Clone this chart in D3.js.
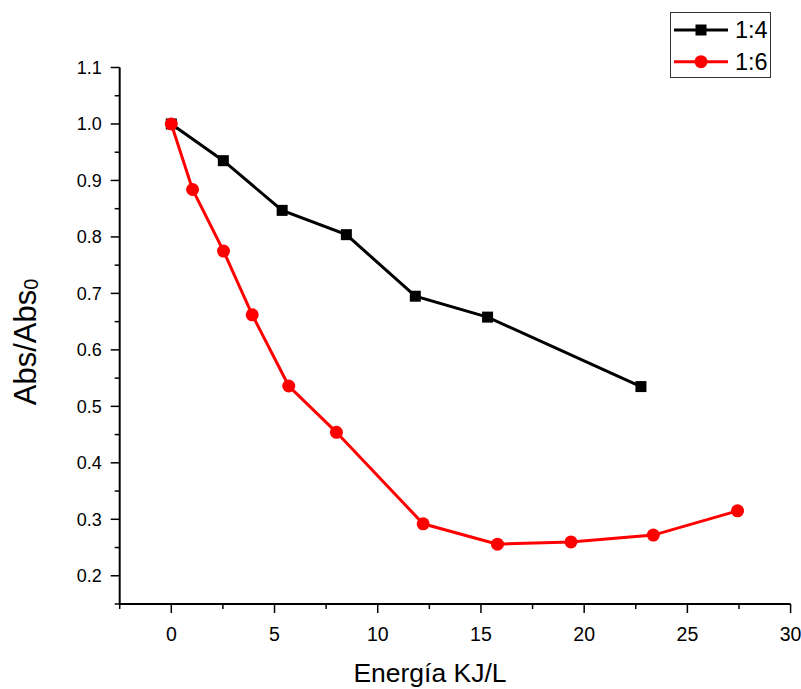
<!DOCTYPE html>
<html>
<head>
<meta charset="utf-8">
<script src="https://cdn.jsdelivr.net/npm/d3@7"></script>
<style>
  body { margin: 0; background: #fff; }
  svg { display: block; font-family: "Liberation Sans", Arial, sans-serif; }
</style>
</head>
<body>
<svg id="chart" width="801" height="689"></svg>
<script>
// Normalised absorbance vs. applied energy
const energy14 = [0, 2.52, 5.37, 8.48, 11.82, 15.32, 22.75];
const abs14    = [1.0, 0.935, 0.847, 0.804, 0.695, 0.658, 0.535];
const energy16 = [0, 1.03, 2.53, 3.92, 5.69, 8.0, 12.2, 15.8, 19.36, 23.35, 27.43];
const abs16    = [1.0, 0.884, 0.775, 0.662, 0.536, 0.454, 0.292, 0.256, 0.260, 0.272, 0.315];
const seriesNames = ["1:4", "1:6"];
const seriesColors = ["#000000", "#ff0000"];
const xTicks = [0, 5, 10, 15, 20, 25, 30];
const yTicks = [0.2, 0.3, 0.4, 0.5, 0.6, 0.7, 0.8, 0.9, 1.0, 1.1];

const svg = d3.select("#chart");
const plotLeft = 119.7, plotRight = 790.6, plotTop = 67.5, plotBottom = 604;

const x = d3.scaleLinear().domain([-2.5, 30]).range([plotLeft, plotRight]);
const y = d3.scaleLinear().domain([0.15, 1.1]).range([plotBottom, plotTop]);

// x axis: major ticks every 5, minor halfway
const xAxisG = svg.append("g").attr("transform", `translate(0,${plotBottom})`);
xAxisG.append("line").attr("x1", plotLeft).attr("x2", plotRight).attr("stroke", "#000").attr("stroke-width", 2);
xAxisG.selectAll(".minor").data(d3.range(-2.5, 30, 5)).join("line")
  .attr("x1", d => x(d)).attr("x2", d => x(d)).attr("y1", 0).attr("y2", 5)
  .attr("stroke", "#000").attr("stroke-width", 1.5);
xAxisG.selectAll(".major").data(xTicks).join("line")
  .attr("x1", d => x(d)).attr("x2", d => x(d)).attr("y1", 0).attr("y2", 9)
  .attr("stroke", "#000").attr("stroke-width", 1.5);
xAxisG.selectAll("text").data(xTicks).join("text")
  .attr("x", d => x(d)).attr("y", 37)
  .attr("text-anchor", "middle").attr("font-size", 19.5).attr("fill", "#000")
  .text(d => d);

// y axis
const yAxisG = svg.append("g").attr("transform", `translate(${plotLeft},0)`);
yAxisG.append("line").attr("y1", y(1.1)).attr("y2", plotBottom).attr("stroke", "#000").attr("stroke-width", 2);
yAxisG.selectAll(".minor").data(d3.range(0.15, 1.1, 0.1)).join("line")
  .attr("y1", d => y(d)).attr("y2", d => y(d)).attr("x1", 0).attr("x2", -5)
  .attr("stroke", "#000").attr("stroke-width", 1.5);
yAxisG.selectAll(".major").data(yTicks).join("line")
  .attr("y1", d => y(d)).attr("y2", d => y(d)).attr("x1", 0).attr("x2", -9)
  .attr("stroke", "#000").attr("stroke-width", 1.5);
yAxisG.selectAll("text").data(yTicks).join("text")
  .attr("x", -18).attr("y", d => y(d)).attr("dy", "0.36em")
  .attr("text-anchor", "end").attr("font-size", 18).attr("fill", "#000")
  .text(d => d3.format(".1f")(d));

// axis titles
svg.append("text").attr("x", 430).attr("y", 682)
  .attr("text-anchor", "middle").attr("font-size", 26.5).attr("fill", "#000")
  .text("Energía KJ/L");
const yt = svg.append("text")
  .attr("transform", "translate(36,342) rotate(-90)")
  .attr("text-anchor", "middle").attr("font-size", 31).attr("fill", "#000");
yt.append("tspan").text("Abs/Abs");
yt.append("tspan").attr("font-size", 20).attr("dy", 2).text("0");

const line = d3.line().x(d => x(d[0])).y(d => y(d[1]));
const data14 = energy14.map((e, i) => [e, abs14[i]]);
const data16 = energy16.map((e, i) => [e, abs16[i]]);

// 1:4 series — squares
svg.append("path").datum(data14).attr("d", line)
  .attr("fill", "none").attr("stroke", seriesColors[0]).attr("stroke-width", 3);
svg.selectAll(".sq").data(data14).join("rect")
  .attr("x", d => x(d[0]) - 5.5).attr("y", d => y(d[1]) - 5.5)
  .attr("width", 11).attr("height", 11).attr("fill", seriesColors[0]);

// 1:6 series — circles
svg.append("path").datum(data16).attr("d", line)
  .attr("fill", "none").attr("stroke", seriesColors[1]).attr("stroke-width", 3);
svg.selectAll(".ci").data(data16).join("circle")
  .attr("cx", d => x(d[0])).attr("cy", d => y(d[1])).attr("r", 6.5)
  .attr("fill", seriesColors[1]);

// legend
const lg = svg.append("g");
lg.append("rect").attr("x", 670.5).attr("y", 12.5).attr("width", 100).attr("height", 65)
  .attr("fill", "#fff").attr("stroke", "#333").attr("stroke-width", 1);
seriesNames.forEach((name, i) => {
  const cy = 30 + i * 31.7;
  lg.append("line").attr("x1", 674).attr("x2", 728).attr("y1", cy).attr("y2", cy)
    .attr("stroke", seriesColors[i]).attr("stroke-width", 3);
  if (i === 0) {
    lg.append("rect").attr("x", 701 - 5.5).attr("y", cy - 5.5).attr("width", 11).attr("height", 11)
      .attr("fill", seriesColors[i]);
  } else {
    lg.append("circle").attr("cx", 701).attr("cy", cy).attr("r", 6.5).attr("fill", seriesColors[i]);
  }
  lg.append("text").attr("x", 735).attr("y", cy).attr("dy", "0.36em")
    .attr("font-size", 23.5).attr("fill", "#000").text(name);
});
</script>
</body>
</html>
